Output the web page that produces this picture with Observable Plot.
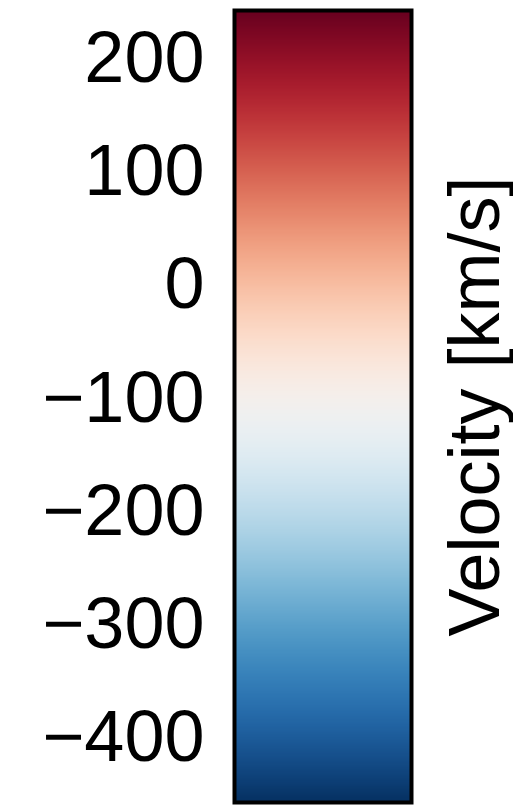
<!DOCTYPE html>
<html>
<head>
<meta charset="utf-8">
<script src="https://cdn.jsdelivr.net/npm/d3@7"></script>
<script src="https://cdn.jsdelivr.net/npm/@observablehq/plot@0.6"></script>
<style>
  html, body { margin: 0; padding: 0; background: white; }
</style>
</head>
<body>
<div id="chart"></div>
<script>
// Colorbar data
const velocityMin = -457;   // km/s, bottom of bar
const velocityMax = 243;    // km/s, top of bar
const tickValues = [-400, -300, -200, -100, 0, 100, 200];
const barLabel = ["Velocity [km/s]"];

const chart = Plot.plot({
  width: 513,
  height: 809,
  marginTop: 10,
  marginBottom: 7,
  marginLeft: 234,
  marginRight: 102,
  style: {
    fontFamily: "'Liberation Sans', Arial, Helvetica, sans-serif",
    fontSize: "72px",
    background: "white",
    color: "black",
    overflow: "visible"
  },
  x: { domain: [0, 1], axis: null },
  y: { domain: [velocityMin, velocityMax] },
  color: { type: "linear", scheme: "RdBu", reverse: true, domain: [velocityMin, velocityMax] },
  marks: [
    Plot.raster({
      x1: 0, x2: 1, y1: velocityMin, y2: velocityMax,
      width: 2, height: 700,
      fill: (x, y) => y
    }),
    Plot.axisY(tickValues, {
      anchor: "left",
      tickSize: 0,
      tickPadding: 30,
      label: null,
      fontSize: 72
    }),
    Plot.text(barLabel, {
      text: d => d,
      frameAnchor: "right",
      rotate: -90,
      lineAnchor: "top",
      textAnchor: "middle",
      dx: 36,
      fontSize: 72,
      fill: "black"
    }),
    Plot.frame({ stroke: "black", strokeWidth: 4 })
  ]
});
document.getElementById("chart").appendChild(chart);
</script>
</body>
</html>
